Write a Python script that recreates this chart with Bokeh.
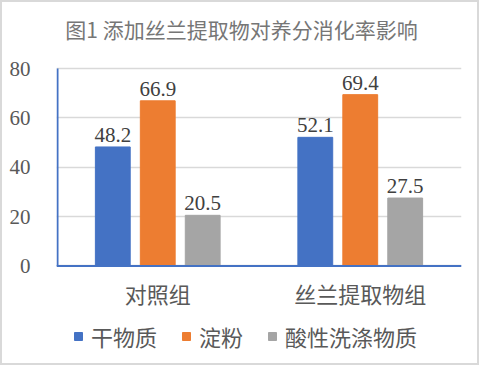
from bokeh.plotting import figure
from bokeh.models import FactorRange, Legend, LegendItem, ColumnDataSource, Range1d, FixedTicker
from bokeh.transform import dodge
from bokeh.core.properties import value
from bokeh.embed import file_html
from bokeh.resources import INLINE

title_text = "图1 添加丝兰提取物对养分消化率影响"
groups = ["对照组", "丝兰提取物组"]
series_names = ["干物质", "淀粉", "酸性洗涤物质"]
dry_matter = [48.2, 52.1]
starch = [66.9, 69.4]
adf = [20.5, 27.5]
y_ticks = [0, 20, 40, 60, 80]

colors = ["#4472C4", "#ED7D31", "#A5A5A5"]
offsets = [-0.222, 0.0, 0.222]
bar_w = 0.172

CJK = "Noto Sans CJK SC"
SERIF = "Liberation Serif"

# layout (canvas pixels)
W, H = 479, 365
left, right = 54, 20
px_top80, px_zero = 66.0, 263.4
ppu = (px_zero - px_top80) / (y_ticks[-1] - y_ticks[0])
y_hi = y_ticks[-1] + px_top80 / ppu
y_lo = -(H - px_zero) / ppu

def y_at(px):
    return (px_zero - px) / ppu

p = figure(width=W, height=H, x_range=FactorRange(factors=groups),
           y_range=Range1d(y_lo, y_hi), output_backend="svg", toolbar_location=None,
           title=None,
           min_border_left=left, min_border_right=right, min_border_top=0, min_border_bottom=0)

p.outline_line_color = None
p.background_fill_color = "white"
p.border_fill_color = "white"

# title (inside frame area, above the bars)
p.text(x=[len(groups) * (239 - left) / (W - left - right)], y=[y_at(26.7)], text=[title_text],
       text_align="center", text_baseline="middle",
       text_font=value(CJK), text_font_size="21px", text_color="#767676")

series = [dry_matter, starch, adf]
items = []
for name, vals, col, off in zip(series_names, series, colors, offsets):
    src = ColumnDataSource(dict(x=groups, y=vals, lbl=[f"{v:.1f}" for v in vals]))
    r = p.vbar(x=dodge("x", off, range=p.x_range), top="y", bottom=0, width=bar_w, source=src,
               fill_color=col, line_color=col)
    p.text(x=dodge("x", off, range=p.x_range), y="y", text="lbl", source=src,
           text_align="center", text_baseline="alphabetic", y_offset=-12,
           text_font=value(SERIF), text_font_size="21px", text_color="#404040")
    items.append(LegendItem(label=name, renderers=[r]))

# axis lines
p.segment(x0=[0.005], y0=[y_ticks[0]], x1=[0.005], y1=[y_ticks[-1]], line_color="#4472C4", line_width=2)
p.segment(x0=[0], y0=[0], x1=[len(groups)], y1=[0], line_color="#4472C4", line_width=2)

# category labels
p.text(x=groups, y=[y_at(290.2)] * len(groups), text=groups,
       text_align="center", text_baseline="middle",
       text_font=value(CJK), text_font_size="22px", text_color="#595959")

# y axis
p.yaxis.ticker = FixedTicker(ticks=y_ticks)
p.yaxis.major_tick_line_color = None
p.yaxis.minor_tick_line_color = None
p.yaxis.axis_line_color = None
p.yaxis.major_label_text_font = SERIF
p.yaxis.major_label_text_font_size = "21px"
p.yaxis.major_label_text_color = "#595959"
p.yaxis.major_label_standoff = 20
p.xaxis.visible = False

p.xgrid.grid_line_color = None
p.ygrid.ticker = FixedTicker(ticks=y_ticks)
p.ygrid.grid_line_color = "#d9d9d9"
p.ygrid.grid_line_width = 1.5

legend = Legend(items=items, orientation="horizontal", location=(17, 15),
                label_text_font=CJK, label_text_font_size="22px", label_text_color="#595959",
                glyph_width=10, glyph_height=10, label_standoff=8, spacing=24,
                padding=0, margin=0, border_line_color=None, background_fill_alpha=0)
p.add_layout(legend)

p.styles = {"border": "2px solid #d9d9d9"}

open("out.html", "w").write(file_html(p, INLINE))
